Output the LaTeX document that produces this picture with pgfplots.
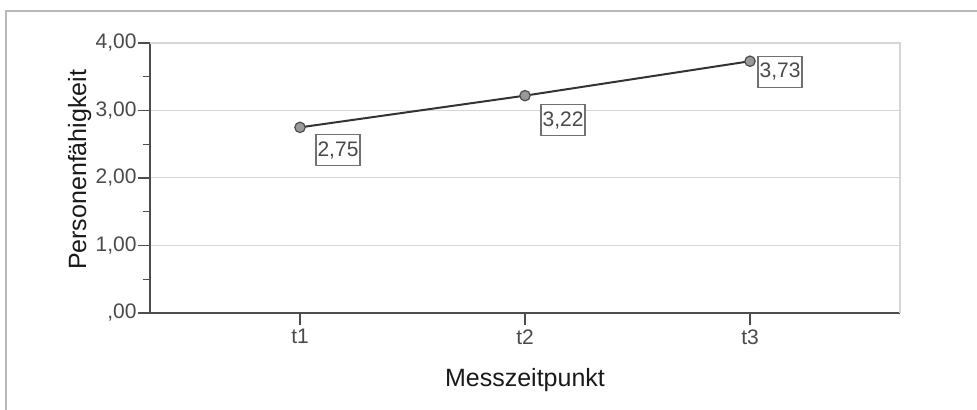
\documentclass[border=0pt]{standalone}
\usepackage{pgfplots}
\usepackage{pgfplotstable}
\pgfplotsset{compat=1.18}
\usepackage{fontspec}
\setmainfont{Liberation Sans}

\definecolor{gridgray}{HTML}{D6D6D6}
\definecolor{axisdark}{HTML}{4D4D4D}
\definecolor{ticktext}{HTML}{4A4A4A}
\definecolor{linedark}{HTML}{333333}
\definecolor{markfill}{HTML}{999999}
\definecolor{framegray}{HTML}{B8B8B8}

% x, value, label offset (pt)
\pgfplotstableread{
x y  lab  dx dy
0 2.75 2,75 19 -11.5
1 3.22 3,22 19 -12.2
2 3.73 3,73 15 -5.2
}\messdata

\begin{document}
\begin{tikzpicture}
% page = 977x410 px at 0.5pt per px
\useasboundingbox (-75pt,-48.5pt) rectangle (413.5pt,156.5pt);
\draw[framegray, line width=1pt] (-72pt,-48.5pt) -- (-72pt,151pt) -- (413.5pt,151pt);
\begin{axis}[
    at={(0,0)}, anchor=south west,
    scale only axis,
    width=375pt, height=135pt,
    xmin=-0.6667, xmax=2.6667,
    ymin=0, ymax=4,
    axis x line*=bottom, axis y line*=left,
    x axis line style={axisdark, line width=1pt},
    y axis line style={axisdark, line width=0.8pt},
    xtick={0,1,2}, xticklabels={t1,t2,t3},
    ytick={0,1,2,3,4},
    yticklabels={{,00},{1,00},{2,00},{3,00},{4,00}},
    minor y tick num=1,
    tick align=outside,
    major tick length=6pt, minor tick length=3.5pt,
    every tick/.style={axisdark, line width=0.7pt},
    tick label style={font=\fontsize{10.5}{12}\selectfont, text=ticktext},
    yticklabel style={inner xsep=0.5pt},
    xticklabel style={inner ysep=2pt},
    ymajorgrids,
    grid style={gridgray, line width=0.5pt},
    xlabel={Messzeitpunkt},
    ylabel={Personenfähigkeit},
    label style={font=\fontsize{12.5}{15}\selectfont, text=black!90},
    xlabel style={at={(axis description cs:0.5,-0.274)}, anchor=base},
    ylabel style={at={(axis description cs:-0.0853,0.53)}, anchor=base, rotate=0},
    clip=false,
]
\draw[gridgray, line width=0.7pt] (rel axis cs:0,1) -- (rel axis cs:1,1) -- (rel axis cs:1,0);
\addplot[
    linedark, line width=1pt,
    mark=*, mark size=2.6pt,
    mark options={fill=markfill, draw=axisdark, line width=0.6pt},
    point meta=explicit symbolic,
    visualization depends on={\thisrow{dx} \as \dx},
    visualization depends on={\thisrow{dy} \as \dy},
    nodes near coords,
    nodes near coords style={
        anchor=center, xshift=\dx pt, yshift=\dy pt,
        draw=axisdark!80, line width=0.6pt, fill=white,
        inner sep=0pt, minimum width=22pt, minimum height=15.5pt,
        font=\fontsize{10.5}{12}\selectfont, text=ticktext,
    },
] table[x=x, y=y, meta=lab] {\messdata};
\end{axis}
\end{tikzpicture}
\end{document}
